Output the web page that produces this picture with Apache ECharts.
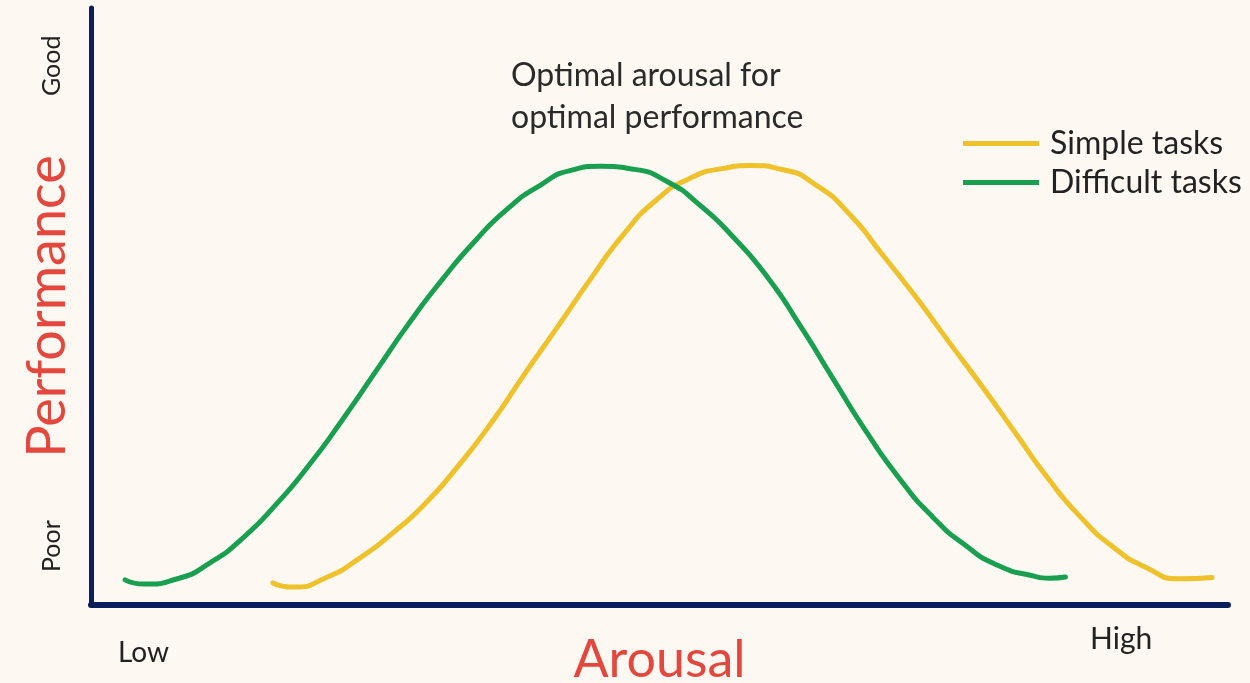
<!DOCTYPE html>
<html>
<head>
<meta charset="utf-8">
<script src="https://cdn.jsdelivr.net/npm/echarts@6/dist/echarts.min.js"></script>
<style>
  html, body { margin: 0; padding: 0; background: #fdf8f2; }
  #chart { width: 1250px; height: 683px; }
</style>
</head>
<body>
<div id="chart"></div>
<script>
// arousal (0-100) vs performance (0-100)
var difficultX = [3.0, 4.7, 7.6, 10.5, 13.4, 16.3, 19.2, 22.1, 25.0, 27.9, 30.8, 33.7, 36.6, 39.5, 42.2, 44.8, 47.7, 50.7, 53.6, 56.5, 59.5, 62.4, 65.3, 68.2, 71.1, 74.0, 76.9, 79.8, 82.8, 84.3, 85.7];
var difficultY = [4.2, 3.5, 4.4, 7.1, 11.3, 16.9, 23.5, 31.0, 39.0, 47.0, 54.3, 60.8, 66.3, 70.3, 72.8, 73.5, 73.0, 70.9, 66.9, 61.6, 54.9, 46.7, 37.8, 29.0, 21.2, 14.8, 10.0, 6.6, 4.9, 4.5, 4.7];

var simpleX = [16.0, 17.8, 20.7, 23.6, 26.5, 29.4, 32.3, 35.2, 38.1, 41.0, 43.9, 46.8, 49.7, 52.6, 55.5, 58.0, 60.9, 63.8, 66.7, 69.6, 72.5, 75.4, 78.3, 81.2, 84.1, 87.0, 89.9, 92.8, 95.7, 98.6];
var simpleY = [3.7, 3.0, 4.6, 7.8, 12.0, 17.0, 23.3, 30.5, 38.6, 46.5, 54.5, 62.0, 67.8, 71.4, 73.1, 73.6, 72.9, 70.3, 65.5, 58.7, 51.7, 44.2, 36.8, 29.1, 21.4, 14.8, 9.7, 6.3, 4.4, 4.6];

var seriesNames = ['Simple tasks', 'Difficult tasks'];
var axisNames = ['Arousal', 'Performance'];
var levelLabels = ['Low', 'High', 'Poor', 'Good'];
var noteLines = ['Optimal arousal for', 'optimal performance'];

function pairs(xs, ys) {
  var out = [];
  for (var i = 0; i < xs.length; i++) out.push([xs[i], ys[i]]);
  return out;
}

var navy = '#0b1d5c';
var font = 'Lato, "Open Sans", sans-serif';

var chart = echarts.init(document.getElementById('chart'));
var option = {
  backgroundColor: '#fdf8f2',
  animation: false,
  grid: { left: 91, right: 22, top: 8, bottom: 78, outerBoundsMode: 'none', containLabel: false },
  legend: {
    orient: 'vertical',
    left: 958,
    top: 122,
    itemWidth: 76,
    itemHeight: 5,
    itemGap: 6,
    icon: 'rect',
    data: seriesNames,
    textStyle: { fontSize: 32, lineHeight: 33, color: '#222', fontFamily: font, padding: [0, 0, 0, 6] }
  },
  xAxis: {
    type: 'value', min: 0, max: 100,
    name: axisNames[0], nameLocation: 'middle', nameGap: 29,
    nameTextStyle: { fontSize: 52, color: '#e4473d', fontFamily: font },
    axisLine: { show: true, lineStyle: { color: navy, width: 6 } },
    axisTick: { show: false }, axisLabel: { show: false }, splitLine: { show: false }
  },
  yAxis: {
    type: 'value', min: 0, max: 100,
    name: axisNames[1], nameLocation: 'middle', nameGap: 16, nameRotate: 90,
    nameTextStyle: { fontSize: 54, color: '#e4473d', fontFamily: font },
    axisLine: { show: true, lineStyle: { color: navy, width: 5 } },
    axisTick: { show: false }, axisLabel: { show: false }, splitLine: { show: false }
  },
  graphic: [
    { type: 'text', left: 118, top: 639, style: { text: levelLabels[0], fontSize: 28, fill: '#222', fontFamily: font } },
    { type: 'text', left: 1090, top: 624, style: { text: levelLabels[1], fontSize: 30, fill: '#222', fontFamily: font } },
    { type: 'text', x: 39, y: 572, rotation: Math.PI / 2, style: { text: levelLabels[2], fontSize: 25, fill: '#222', fontFamily: font } },
    { type: 'text', x: 39, y: 96, rotation: Math.PI / 2, style: { text: levelLabels[3], fontSize: 25, fill: '#222', fontFamily: font } },
    { type: 'text', left: 511, top: 55, style: { text: noteLines.join('\n'), fontSize: 32, lineHeight: 42, fill: '#2a2a2a', fontFamily: font } }
  ],
  series: [
    {
      name: seriesNames[0], type: 'line', smooth: 0.6, showSymbol: false,
      data: pairs(simpleX, simpleY),
      itemStyle: { color: '#efc12a' },
      lineStyle: { color: '#efc12a', width: 5, cap: 'round' }
    },
    {
      name: seriesNames[1], type: 'line', smooth: 0.6, showSymbol: false,
      data: pairs(difficultX, difficultY),
      itemStyle: { color: '#18a050' },
      lineStyle: { color: '#18a050', width: 5, cap: 'round' }
    }
  ]
};
chart.setOption(option);
</script>
</body>
</html>
